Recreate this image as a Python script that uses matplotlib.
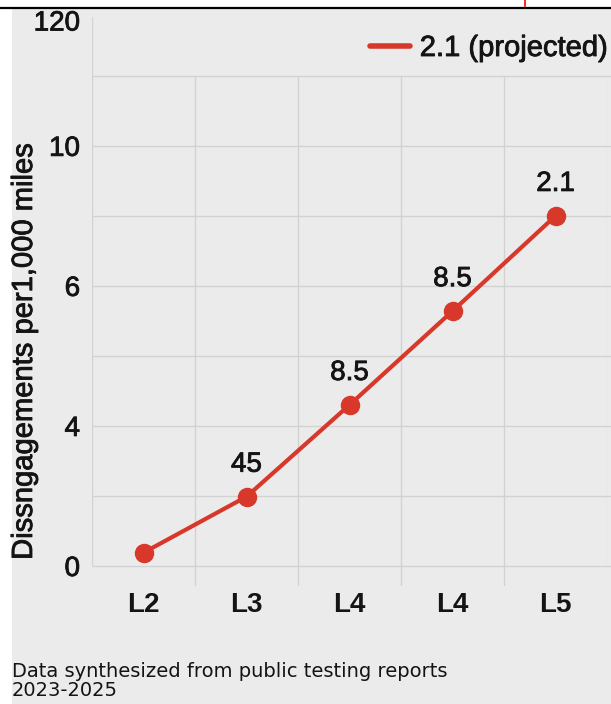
import matplotlib
matplotlib.use("Agg")
import matplotlib.pyplot as plt
import matplotlib.patheffects as pe
from matplotlib.patches import Rectangle
from matplotlib.lines import Line2D

plt.rcParams["font.family"] = ["Liberation Sans", "DejaVu Sans"]

# --- data -------------------------------------------------------------
levels = ["L2", "L3", "L4", "L4", "L5"]
disengagements = [0.19, 0.99, 2.3, 3.64, 5.0]
point_labels = ["", "45", "8.5", "8.5", "2.1"]
ytick_pos = [0, 2, 4, 6, 7.79]
ytick_labels = ["0", "4", "6", "10", "120"]
series_name = "2.1 (projected)"
ylabel = "Dissngagements per1,000 miles"
footnote = "Data synthesized from public testing reports\n2023-2025"

RED = "#d8382a"
BG = "#ebebeb"
GRID = "#d2d2d2"
TXT = "#141414"

# slightly heavier strokes for the medium-weight labels
medium = [pe.withStroke(linewidth=0.6, foreground=TXT)]

W, H = 611, 704
fig = plt.figure(figsize=(W / 100, H / 100), dpi=100, facecolor="white")

# light panel behind everything, with a thin rule across the top
fig.patches.append(Rectangle((12 / W, 0), 1 - 12 / W, (H - 9) / H,
                             transform=fig.transFigure, facecolor=BG,
                             edgecolor="none", zorder=-10))
fig.lines.append(Line2D([0, 1], [(H - 8) / H] * 2, transform=fig.transFigure,
                        color="black", lw=1.6))
fig.lines.append(Line2D([525 / W, 525 / W], [(H - 6) / H, 1],
                        transform=fig.transFigure, color="red", lw=1.2))

left, right, bottom, top = 92, 607, 586, 17
ax = fig.add_axes([left / W, (H - bottom) / H, (right - left) / W,
                   (bottom - top) / H])
ax.set_zorder(1)
ax.set_facecolor("none")
ax.set_xlim(-0.5, 4.5)
ax.set_ylim(-0.286, 7.84)
for s in ax.spines.values():
    s.set_visible(False)

# grid
x = list(range(len(levels)))
ax.hlines(range(0, 8), -0.5, 4.54, color=GRID, lw=1.0, zorder=1, clip_on=False)
ax.vlines([0.5, 1.5, 2.5, 3.5], -0.286, 7, color=GRID, lw=1.0, zorder=1)
ax.vlines([4.5], 0, 7, color=GRID, lw=1.0, zorder=1)
ax.vlines([-0.5], 0, 7.84, color=GRID, lw=1.0, zorder=1)

# series
ax.plot(x, disengagements, color=RED, lw=3, marker="o", ms=13,
        mfc=RED, mec=RED, zorder=3, label=series_name, solid_capstyle="round")
for xi, yi, lab in zip(x, disengagements, point_labels):
    if lab:
        ax.annotate(lab, (xi, yi), xytext=(0, 23), textcoords="offset points",
                    ha="center", va="center", fontsize=20, color=TXT,
                    path_effects=medium)

ax.set_xticks(x)
ax.set_xticklabels(levels, fontsize=20, fontweight="bold", color=TXT)
ax.set_yticks(ytick_pos)
ax.set_yticklabels(ytick_labels, fontsize=20, color=TXT)
for t in ax.get_yticklabels():
    t.set_path_effects(medium)
ax.tick_params(axis="x", length=0, pad=4)
ax.tick_params(axis="y", length=0, pad=8.6)

fig.text(24 / W, (H - 352) / H, ylabel, rotation=90, ha="center",
         va="center", fontsize=21, color=TXT, path_effects=medium)

leg = ax.legend(loc="center right", bbox_to_anchor=(608 / W, (H - 48) / H),
                bbox_transform=fig.transFigure, frameon=False, fontsize=21,
                handlelength=1.35, handletextpad=0.35, borderpad=0,
                borderaxespad=0)
for h in leg.legend_handles:
    h.set_marker("")
    h.set_linewidth(4)
for t in leg.get_texts():
    t.set_color(TXT)
    t.set_path_effects(medium)

fig.text(12 / W, (H - 681) / H, footnote, ha="left", va="center",
         fontsize=14, color=TXT, linespacing=1.0,
         family=["DejaVu Sans"])

fig.savefig("out.png", dpi=100, facecolor=fig.get_facecolor())
